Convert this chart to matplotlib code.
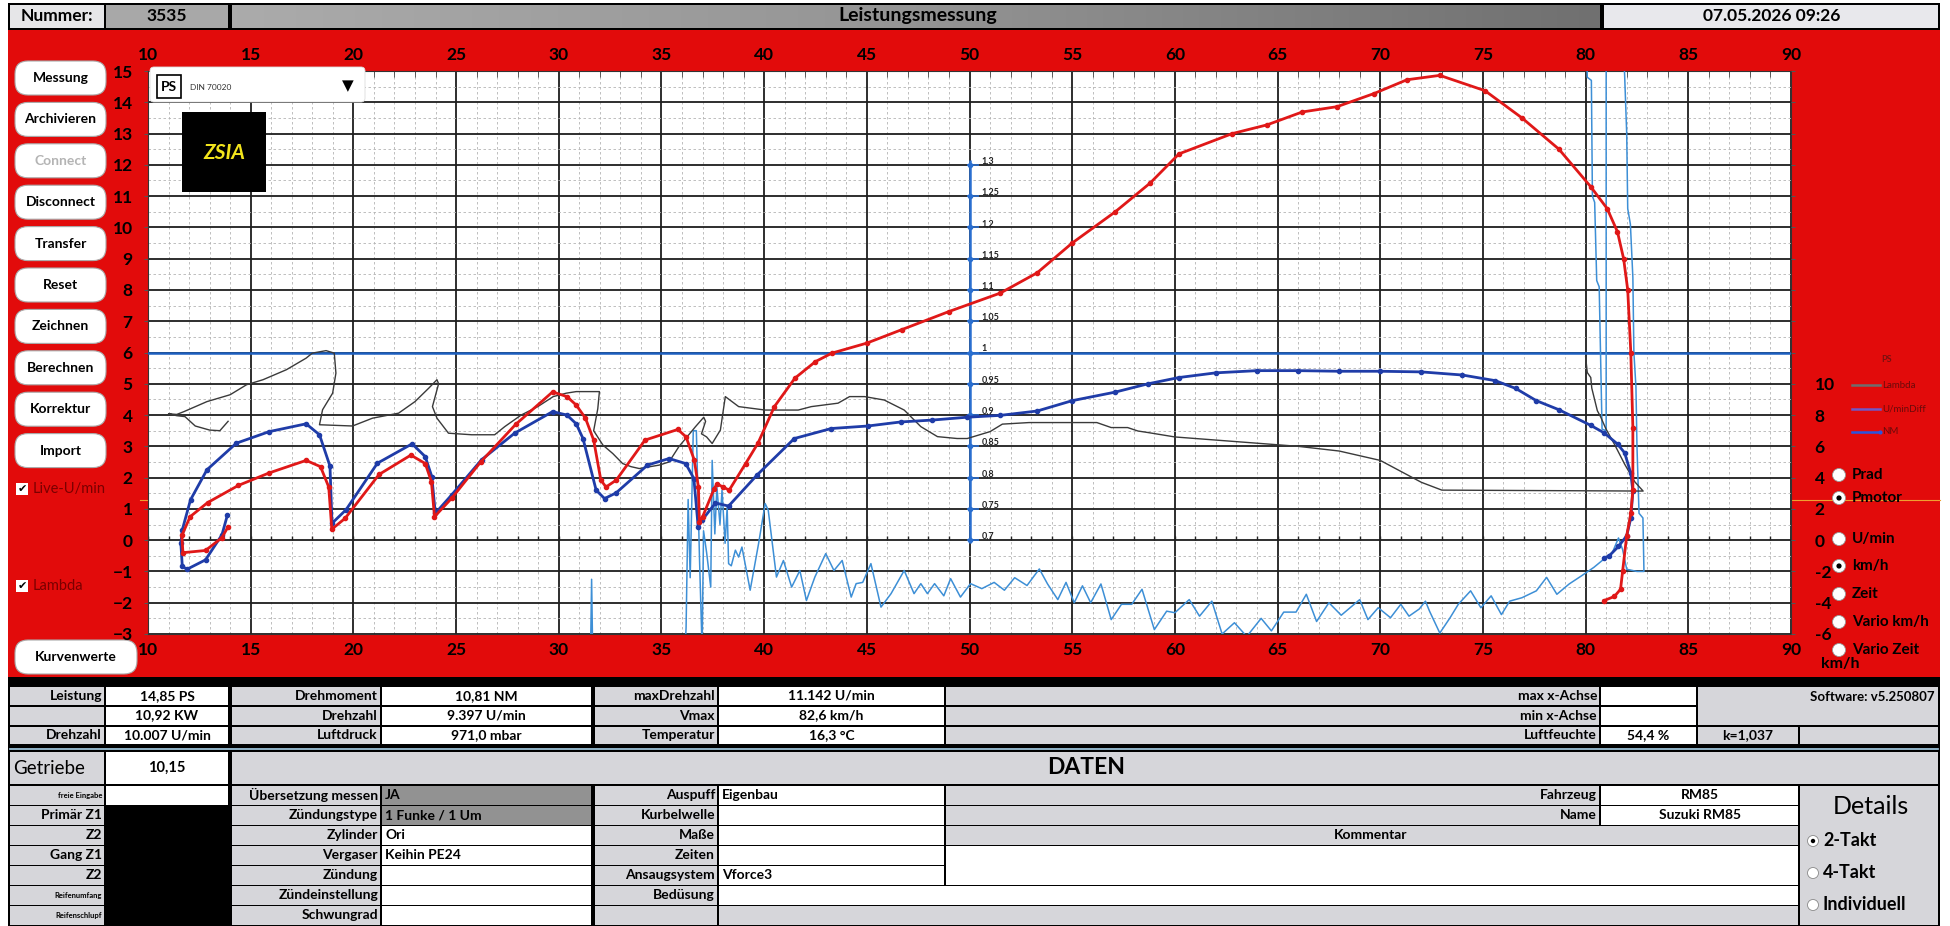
import numpy as np
import matplotlib
matplotlib.use('Agg')
import matplotlib.pyplot as plt
from matplotlib.patches import Rectangle, FancyBboxPatch, Circle
from matplotlib.lines import Line2D
from matplotlib.colors import LinearSegmentedColormap

plt.rcParams['font.family'] = ['Lato', 'DejaVu Sans']
plt.rcParams['font.weight'] = 'bold'

# power curve (PS) over km/h
ps_kmh = [13.9, 13.6, 12.8, 11.7, 11.65, 12.05, 12.9, 14.4, 15.9, 17.7, 18.4, 18.8, 18.95,
          19.6, 21.25, 22.8, 23.5, 23.8, 23.95, 24.8, 26.2, 27.9, 29.7, 30.4, 30.85, 31.3, 31.7,
          32.05, 32.3, 32.8, 34.2, 35.8, 36.2, 36.6, 36.8, 36.85, 37.0, 37.55, 37.7, 38.0, 38.3,
          39.1, 39.7, 40.5, 41.5, 42.5, 43.3, 45.0, 46.7, 49.0, 51.5, 53.3, 55.0, 57.1, 58.8,
          60.2, 62.8, 64.5, 66.2, 67.9, 69.7, 71.3, 72.9, 75.1, 76.9, 78.7, 80.25, 81.05, 81.55,
          81.85, 82.05, 82.2, 82.3, 82.3, 82.2, 82.0, 81.8, 81.7, 81.4, 80.9]
ps_val = [0.43, 0.08, -0.33, -0.4, 0.15, 0.75, 1.2, 1.75, 2.15, 2.55, 2.35, 1.7, 0.35,
          0.7, 2.1, 2.72, 2.45, 1.87, 0.75, 1.35, 2.5, 3.7, 4.74, 4.59, 4.32, 3.9, 3.2,
          1.92, 1.7, 1.92, 3.2, 3.54, 3.3, 2.56, 1.7, 0.58, 0.74, 1.62, 1.8, 1.7, 1.6,
          2.45, 3.1, 4.27, 5.18, 5.71, 5.98, 6.3, 6.73, 7.31, 7.9, 8.55, 9.5, 10.5, 11.42,
          12.35, 13.0, 13.28, 13.69, 13.86, 14.28, 14.72, 14.86, 14.37, 13.5, 12.5, 11.3, 10.6, 9.86,
          9.0, 8.0, 6.0, 3.6, 1.6, 0.86, 0.14, -1.0, -1.57, -1.8, -1.93]

# torque curve (NM)
nm_kmh = [13.87, 13.6, 12.8, 11.9, 11.67, 11.6, 11.67, 12.07, 12.87, 14.3, 15.9, 17.7, 18.35,
          18.86, 18.96, 19.64, 21.17, 22.86, 23.5, 23.82, 23.99, 24.79, 26.24, 27.85, 29.7, 30.4,
          30.85, 31.18, 31.82, 32.23, 32.79, 34.32, 35.37, 36.18, 36.58, 36.79, 36.98, 37.63, 38.27,
          39.65, 41.47, 43.27, 45.05, 46.66, 48.19, 49.87, 51.5, 53.3, 55.0, 57.07, 58.7, 60.2,
          62.0, 64.0, 66.0, 68.0, 70.0, 72.0, 74.0, 75.6, 76.6, 77.6, 78.7, 80.25, 80.9, 81.56,
          81.9, 82.2, 82.3, 82.2, 82.0, 81.6, 81.15, 80.9]
nm_val = [0.81, 0.17, -0.63, -0.93, -0.84, -0.1, 0.33, 1.29, 2.25, 3.1, 3.47, 3.72, 3.37,
          2.37, 0.54, 0.97, 2.46, 3.08, 2.67, 2.03, 0.86, 1.45, 2.57, 3.42, 4.11, 4.0,
          3.72, 3.25, 1.6, 1.33, 1.51, 2.4, 2.61, 2.45, 1.97, 0.42, 0.64, 1.19, 1.09,
          2.08, 3.25, 3.57, 3.65, 3.78, 3.84, 3.93, 3.99, 4.13, 4.46, 4.73, 5.0, 5.2,
          5.35, 5.42, 5.42, 5.4, 5.4, 5.38, 5.28, 5.1, 4.85, 4.46, 4.17, 3.67, 3.43, 3.07,
          2.79, 2.14, 1.57, 0.71, 0.14, -0.2, -0.5, -0.57]

# lambda trace, already in left-axis units
lam_kmh = [13.9, 13.5, 13.0, 12.3, 11.8, 11.4, 11.0, 11.4, 11.75, 12.87, 14.0, 14.8, 15.6,
           16.74, 17.7, 18.0, 18.67, 19.07, 19.15, 18.99, 18.5, 18.35, 19.96, 20.93, 22.2, 23.0,
           23.67, 24.07, 24.15, 23.85, 24.07, 24.63, 25.76, 26.88, 27.37, 28.17, 28.98, 29.73,
           30.37, 30.85, 31.98, 31.9, 31.7, 32.15, 32.63, 33.11, 33.52, 33.92, 34.89, 35.37,
           35.85, 36.18, 36.66, 37.06, 37.15, 36.95, 37.2, 37.47, 37.87, 38.11, 38.76, 40.05,
           41.66, 42.3, 43.6, 44.16, 44.89, 45.85, 46.82, 47.63, 48.44, 49.4, 49.89, 51.0,
           51.6, 52.9, 54.9, 56.2, 56.9, 57.7, 58.2, 58.7, 60.0, 63.0, 66.0, 68.0, 70.0, 71.0,
           72.0, 73.0, 82.8, 82.4, 81.9, 81.4, 80.98, 80.74, 80.57, 80.3, 80.25, 80.08, 80.0]
lam_val = [3.8, 3.5, 3.52, 3.65, 3.95, 3.98, 4.04, 4.02, 4.11, 4.43, 4.65, 4.97, 5.13,
           5.45, 5.82, 5.98, 6.06, 5.98, 5.34, 4.7, 4.17, 3.69, 3.65, 3.9, 4.06, 4.43,
           4.86, 5.13, 5.0, 4.27, 3.9, 3.42, 3.37, 3.37, 3.63, 4.0, 4.27, 4.59,
           4.7, 4.75, 4.75, 4.2, 3.5, 3.04, 2.77, 2.45, 2.35, 2.29, 2.4, 2.5,
           2.99, 3.25, 3.63, 3.93, 3.8, 3.4, 3.3, 3.09, 3.52, 4.59, 4.27, 4.16,
           4.16, 4.27, 4.38, 4.59, 4.59, 4.48, 4.16, 3.63, 3.31, 3.25, 3.25, 3.47,
           3.71, 3.76, 3.76, 3.76, 3.6, 3.6, 3.49, 3.44, 3.3, 3.15, 3.0, 2.85, 2.55, 2.2,
           1.85, 1.6, 1.57, 1.86, 2.43, 3.07, 3.57, 3.93, 4.14, 4.86, 5.2, 5.36, 5.86]

# U/min difference trace (values outside -3..15 get clipped)
umd_kmh = [31.55, 31.6, 31.65, 36.15, 36.2, 36.3, 36.4, 36.55, 36.7, 36.85, 36.98, 37.05, 37.2,
           37.4, 37.47, 37.6, 37.7, 37.85, 37.95, 38.1, 38.2, 38.27, 38.4, 38.6, 38.76, 38.92,
           39.32, 39.73, 40.05, 40.2, 40.6, 40.94, 41.34, 41.74, 42.06, 42.47, 43.0, 43.4, 43.8,
           44.24, 44.48, 44.8, 45.2, 45.69, 46.18, 46.82, 47.3, 47.63, 47.95, 48.3, 48.75, 49.08,
           49.56, 50.05, 50.6, 51.2, 51.7, 52.2, 52.8, 53.4, 53.8, 54.3, 54.7, 55.1, 55.5, 55.9,
           56.4, 56.9, 57.4, 57.9, 58.4, 59.0, 59.6, 60.0, 60.7, 61.2, 61.8, 62.3, 62.9, 63.5,
           64.2, 64.7, 65.3, 65.9, 66.4, 66.9, 67.5, 68.1, 69.0, 69.4, 69.9, 70.5, 71.0, 71.4,
           71.9, 72.2, 72.4, 72.9, 73.4, 73.8, 74.4, 74.9, 75.4, 75.9, 76.3, 76.9, 77.6, 78.1,
           78.6, 79.2, 79.8, 80.4, 80.9, 81.3, 81.6, 81.8, 82.0, 82.5, 82.84, 82.79, 82.6, 82.5,
           82.45, 82.35, 82.3, 82.18, 82.05, 82.0, 81.9, 81.85, 81.0, 81.0, 80.8, 80.66, 80.54,
           80.44, 80.33, 80.28, 80.08, 80.05]
umd_val = [-3.5, -1.25, -3.5, -3.5, -2.8, 1.3, -1.2, 3.5, 3.5, -0.5, -3.5, 0.3, -0.4,
           -1.5, 2.55, 0.2, 1.7, 0.5, 1.6, -0.1, 1.05, -0.75, -0.82, -0.32, -0.54, -0.22,
           -1.6, -0.11, 1.17, 0.96, -1.18, -0.65, -1.5, -0.97, -1.93, -1.18, -0.43, -0.97, -0.65,
           -1.82, -1.39, -1.35, -0.75, -2.14, -1.71, -0.97, -1.71, -1.39, -1.71, -1.39, -1.78, -1.23,
           -1.82, -1.39, -1.55, -1.35, -1.6, -1.2, -1.45, -0.92, -1.4, -1.9, -1.35, -2.0, -1.46, -2.0,
           -1.4, -2.54, -2.05, -2.05, -1.57, -2.86, -2.27, -2.32, -1.9, -2.43, -1.95, -3.0, -2.64, -3.08,
           -2.5, -2.9, -2.3, -2.3, -1.73, -2.6, -2.0, -2.4, -1.9, -2.54, -2.16, -2.48, -2.05, -2.43,
           -2.2, -1.95, -2.27, -2.97, -2.48, -2.05, -1.62, -2.16, -1.78, -2.38, -1.95, -1.84, -1.62, -1.19,
           -1.73, -1.4, -1.14, -0.87, -0.6, -0.4, 0.07, -0.3, -0.93, -1.0, -1.0, 0.71, 0.86, 3.0,
           4.9, 6.0, 8.4, 10.1, 10.6, 13.0, 14.86, 15.6, 15.6, 3.5, 3.55, 8.1, 8.3,
           10.8, 11.0, 14.7, 14.8, 15.6]

x_ticks = list(range(10, 91, 5))
x_minor = list(range(10, 91))
y_ticks = list(range(-3, 16))
right_ticks = list(range(-6, 31, 2))
right_labels = [str(v) if v <= 10 else '' for v in right_ticks]
lambda_ticks = [0.7, 0.75, 0.8, 0.85, 0.9, 0.95, 1.0, 1.05, 1.1, 1.15, 1.2, 1.25, 1.3]

buttons = ['Messung', 'Archivieren', 'Connect', 'Disconnect', 'Transfer', 'Reset',
           'Zeichnen', 'Berechnen', 'Korrektur', 'Import']
radios = ['Prad', 'Pmotor', 'U/min', 'km/h', 'Zeit', 'Vario km/h', 'Vario Zeit']
radio_y = [475, 498, 539, 566, 594, 622, 650]
radio_on = [False, True, False, True, False, False, False]

RED = '#e20b0b'
GRAY = '#d6d6da'
W, H = 1950, 926

fig = plt.figure(figsize=(W / 100, H / 100), dpi=100)
bg = fig.add_axes([0, 0, 1, 1], zorder=0)
bg.set_xlim(0, W); bg.set_ylim(H, 0); bg.axis('off')


def rect(x0, y0, x1, y1, fc, a=bg, z=1, ec='none', lw=0):
    a.add_patch(Rectangle((x0, y0), x1 - x0, y1 - y0, facecolor=fc, edgecolor=ec, linewidth=lw, zorder=z))


def txt(x, y, s, size=10, ha='center', weight='bold', color='black', a=bg, **kw):
    a.text(x, y, s, ha=ha, va='center', fontsize=size, fontweight=weight, color=color, zorder=5, **kw)


# header
rect(8, 3, 1940, 30, 'black')
rect(10, 5, 104, 28, '#e6e6e8', z=2)
rect(106, 5, 228, 28, '#a8a8a8', z=2)
grad = np.linspace(0, 1, 256)[None, :]
cm = LinearSegmentedColormap.from_list('g', ['#ababab', '#949494', '#707070'])
bg.imshow(grad, extent=(232, 1600, 28, 5), aspect='auto', cmap=cm, zorder=2)
rect(1604, 5, 1938, 28, '#e8e8ec', z=2)
txt(57, 16, 'Nummer:', 12.5)
txt(167, 16, '3535', 12.5)
txt(918, 16, 'Leistungsmessung', 14)
txt(1772, 16, '07.05.2026 09:26', 12.5)

# red panel
rect(8, 30, 1940, 677, RED)
bg.plot([140, 1940], [500, 500], color='#f0a030', lw=0.8, zorder=2)

for i, b in enumerate(buttons):
    cy = 78 + 41.4 * i
    bg.add_patch(FancyBboxPatch((15, cy - 17), 91, 34, boxstyle='round,pad=0,rounding_size=13',
                                fc='white', ec='#aaaaaa', lw=0.8, zorder=3))
    txt(60.5, cy, b, 10, color='#b4b4b4' if b == 'Connect' else 'black')
bg.add_patch(FancyBboxPatch((15, 640), 122, 34, boxstyle='round,pad=0,rounding_size=13',
                            fc='white', ec='#aaaaaa', lw=0.8, zorder=3))
txt(76, 657, 'Kurvenwerte', 10)

for cy, lab in [(489, 'Live-U/min'), (586, 'Lambda')]:
    rect(16, cy - 6, 28, cy + 6, 'white', z=3)
    bg.text(22, cy, '\u2714', ha='center', va='center', fontsize=8, family='DejaVu Sans', zorder=5)
    txt(33, cy, lab, 10.5, ha='left', weight='normal', color='#7a0000')

# legend on the right
txt(1887, 360, 'PS', 6.5, color='#7a1010')
for cy, lab, col, mk in [(385, 'Lambda', '#6e6e6e', None), (409, 'U/minDiff', '#7058c8', None),
                         (432, 'NM', '#2a55e0', 'o')]:
    bg.plot([1852, 1880], [cy, cy], color=col, lw=1.8, marker=mk, ms=2, markevery=[1], zorder=4)
    txt(1882, cy, lab, 7, ha='left', weight='normal', color='#6a0a0a')

for lab, cy, on in zip(radios, radio_y, radio_on):
    bg.add_patch(Circle((1839, cy), 6.5, fc='white', ec='#999999', lw=0.6, zorder=4))
    if on:
        bg.add_patch(Circle((1839, cy), 2.6, fc='black', zorder=5))
    txt(1852, cy, lab, 11, ha='left')
txt(1840, 664, 'km/h', 11.5)

# table area
rect(8, 677, 1940, 926, 'black')
top_rows = [(687, 704.5), (706.5, 724.5), (726.5, 744)]
top_cells = [
    [(10, 104, GRAY, 'Leistung', 'right'), (106, 228, 'white', '14,85 PS', 'center'),
     (232, 380, GRAY, 'Drehmoment', 'right'), (382, 591, 'white', '10,81 NM', 'center'),
     (595, 717, GRAY, 'maxDrehzahl', 'right'), (719, 944, 'white', '11.142 U/min', 'center'),
     (946, 1599, GRAY, 'max x-Achse', 'right'), (1601, 1696, 'white', '', 'center')],
    [(10, 104, GRAY, '', 'right'), (106, 228, 'white', '10,92 KW', 'center'),
     (232, 380, GRAY, 'Drehzahl', 'right'), (382, 591, 'white', '9.397 U/min', 'center'),
     (595, 717, GRAY, 'Vmax', 'right'), (719, 944, 'white', '82,6 km/h', 'center'),
     (946, 1599, GRAY, 'min x-Achse', 'right'), (1601, 1696, 'white', '', 'center')],
    [(10, 104, GRAY, 'Drehzahl', 'right'), (106, 228, 'white', '10.007 U/min', 'center'),
     (232, 380, GRAY, 'Luftdruck', 'right'), (382, 591, 'white', '971,0 mbar', 'center'),
     (595, 717, GRAY, 'Temperatur', 'right'), (719, 944, 'white', '16,3 \u00b0C', 'center'),
     (946, 1599, GRAY, 'Luftfeuchte', 'right'), (1601, 1696, 'white', '54,4 %', 'center'),
     (1698, 1798, GRAY, 'k=1,037', 'center'), (1800, 1938, GRAY, '', 'center')],
]


def fill_row(y0, y1, cells, size=10):
    for x0, x1, fc, s, al in cells:
        rect(x0, y0, x1, y1, fc, z=2)
        if not s:
            continue
        if al == 'right':
            txt(x1 - 2, (y0 + y1) / 2, s, size, ha='right')
        elif al == 'left':
            txt(x0 + 3, (y0 + y1) / 2, s, size, ha='left')
        else:
            txt((x0 + x1) / 2, (y0 + y1) / 2, s, size)


for (y0, y1), cells in zip(top_rows, top_cells):
    fill_row(y0, y1, cells)
rect(1698, 687, 1938, 724.5, GRAY, z=2)
txt(1935, 697, 'Software: v5.250807', 9.5, ha='right')
bg.plot([10, 1938], [748.5, 748.5], color='#a8d0e8', lw=1.2, zorder=3)

rect(10, 752, 104, 784, GRAY, z=2)
rect(106, 752, 228, 784, 'white', z=2)
rect(232, 752, 1938, 784, GRAY, z=2)
txt(13, 768, 'Getriebe', 13.5, ha='left', weight='normal')
txt(167, 768, '10,15', 10.5)
txt(1086, 768, 'DATEN', 16.5)

c1 = ['freie Eingabe', 'Primär Z1', 'Z2', 'Gang Z1', 'Z2', 'Reifenumfang', 'Reifenschlupf']
c2 = ['Übersetzung messen', 'Zündungstype', 'Zylinder', 'Vergaser', 'Zündung',
      'Zündeinstellung', 'Schwungrad']
c2v = ['JA', '1 Funke / 1 Um', 'Ori', 'Keihin PE24', '', '', '']
c3 = ['Auspuff', 'Kurbelwelle', 'Maße', 'Zeiten', 'Ansaugsystem', 'Bedüsung', '']
c3v = ['Eigenbau', '', '', '', 'Vforce3']
for i in range(7):
    y0 = 786 + i * 20
    y1 = y0 + 18.5
    cy = (y0 + y1) / 2
    small = c1[i] in ('freie Eingabe', 'Reifenumfang', 'Reifenschlupf')
    rect(10, y0, 104, y1, GRAY, z=2)
    txt(102, cy, c1[i], 5.5 if small else 10, ha='right')
    rect(106, y0, 228, y1, 'white' if i == 0 else 'black', z=2)
    rect(232, y0, 380, y1, GRAY, z=2)
    txt(378, cy, c2[i], 10, ha='right')
    rect(382, y0, 591, y1, '#929292' if i < 2 else 'white', z=2)
    txt(385, cy, c2v[i], 10, ha='left')
    rect(595, y0, 717, y1, GRAY, z=2)
    txt(715, cy, c3[i], 10, ha='right')
    if i < 5:
        rect(719, y0, 944, y1, 'white', z=2)
        txt(722, cy, c3v[i], 10, ha='left')
    else:
        rect(719, y0, 1798, y1, 'white' if i == 5 else GRAY, z=2)
for i, (lab, val) in enumerate([('Fahrzeug', 'RM85'), ('Name', 'Suzuki RM85')]):
    y0 = 786 + i * 20
    rect(946, y0, 1599, y0 + 18.5, GRAY, z=2)
    txt(1597, y0 + 9.25, lab, 10, ha='right')
    rect(1601, y0, 1798, y0 + 18.5, 'white', z=2)
    txt(1700, y0 + 9.25, val, 10)
rect(946, 826, 1798, 844.5, GRAY, z=2)
txt(1371, 835, 'Kommentar', 10)
rect(946, 846, 1798, 884.5, 'white', z=2)
rect(1800, 786, 1938, 925, GRAY, z=2)
txt(1871, 806, 'Details', 18, weight='normal')
for cy, lab, on in [(841, '2-Takt', True), (873, '4-Takt', False), (905, 'Individuell', False)]:
    bg.add_patch(Circle((1813, cy), 5.5, fc='white', ec='#888888', lw=0.6, zorder=4))
    if on:
        bg.add_patch(Circle((1813, cy), 2.2, fc='black', zorder=5))
    txt(1823, cy, lab, 13, ha='left')

# main chart
ax = fig.add_axes([148 / W, 1 - 634 / H, (1791 - 148) / W, (634 - 71) / H], zorder=2)
ax.set_xlim(10, 90)
ax.set_ylim(-3, 15)
ax.set_axisbelow(True)
ax.set_xticks(x_ticks)
ax.set_xticks(x_minor, minor=True)
ax.set_yticks(y_ticks)
ax.set_yticks(np.arange(-3, 15.01, 0.5), minor=True)
ax.grid(which='major', color='#1e1e1e', lw=1.3)
ax.grid(which='minor', color='#b4b4b4', lw=0.6, ls=(0, (3, 3)))
ax.tick_params(axis='x', which='major', length=0, labelsize=12.5, labeltop=True, pad=6)
ax.tick_params(axis='x', which='minor', length=4, direction='in', top=True, bottom=False,
               color='#444444')
ax.tick_params(axis='y', which='major', length=3, color='#555555', labelsize=12.5, pad=8)
ax.tick_params(axis='y', which='minor', length=0)
for s in ax.spines.values():
    s.set_color('#333333')
    s.set_linewidth(0.8)

ax.vlines(x_minor, 0, 0.14, color='#222222', lw=1)
ax.axhline(6, color='#1c5fc0', lw=1.8, zorder=3)

# lambda scale at 50 km/h
lam_pos = [6 + (v - 1) * 20 for v in lambda_ticks]
ax.vlines(50, -0.1, 12.15, color='#2a6fd0', lw=1.8, zorder=4)
ax.hlines(lam_pos, 49.9, 50.45, color='#2a6fd0', lw=1.2, zorder=4)
ax.plot([50] * len(lam_pos), lam_pos, 'o', color='#2a6fd0', ms=3, zorder=4)
for v, p in zip(lambda_ticks, lam_pos):
    ax.text(50.6, p + 0.12, f'{v:g}'.replace('.', ','), fontsize=6.5, va='center', ha='left',
            color='#222222', zorder=6)

ax.plot(umd_kmh, umd_val, color='#3d8fd6', lw=1.1, zorder=4)
ax.plot(lam_kmh, lam_val, color='#3a3a3a', lw=1.0, zorder=4)
ax.plot(nm_kmh, nm_val, color='#1f3ca8', lw=2.0, marker='o', ms=3, zorder=5)
ax.plot(ps_kmh, ps_val, color='#e01818', lw=2.0, marker='o', ms=3, zorder=5)

ax2 = ax.twinx()
ax2.set_zorder(3)
ax2.set_ylim(-6, 30)
ax2.set_yticks(right_ticks)
ax2.set_yticklabels(right_labels)
ax2.tick_params(axis='y', length=3, color='#555555', labelsize=12.5, pad=14)
for s in ax2.spines.values():
    s.set_visible(False)

# dropdown and logo over the chart
fg = fig.add_axes([0, 0, 1, 1], zorder=6)
fg.set_xlim(0, W); fg.set_ylim(H, 0); fg.axis('off')
fg.add_patch(FancyBboxPatch((150, 67), 215, 35, boxstyle='round,pad=0,rounding_size=4',
                            fc='white', ec='#dddddd', lw=0.6, zorder=2))
rect(157, 75, 181, 98, 'white', a=fg, z=3, ec='black', lw=1.2)
txt(169, 87, 'PS', 10, a=fg)
txt(190, 88, 'DIN 70020', 6, ha='left', weight='normal', color='#333333', a=fg)
txt(348, 86, '\u25bc', 11, a=fg, family='DejaVu Sans')
rect(182, 112, 266, 192, 'black', a=fg, z=3)
txt(224, 153, 'ZSIA', 15, color='#f2e41c', a=fg, style='italic')

fig.savefig('out.png', dpi=100, facecolor='white')
